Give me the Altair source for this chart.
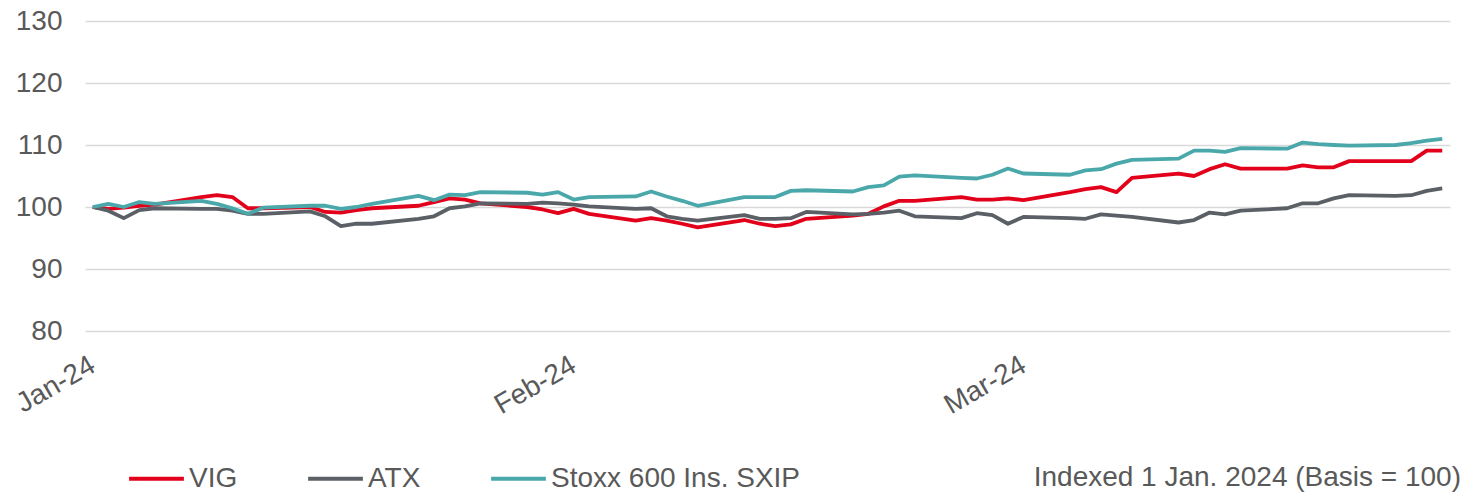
import altair as alt
import pandas as pd

# Trading days (Jan 1 – Mar 28, 2024)
dates = [
    "2024-01-01", "2024-01-02", "2024-01-03", "2024-01-04", "2024-01-05",
    "2024-01-08", "2024-01-09", "2024-01-10", "2024-01-11", "2024-01-12",
    "2024-01-15", "2024-01-16", "2024-01-17", "2024-01-18", "2024-01-19",
    "2024-01-22", "2024-01-23", "2024-01-24", "2024-01-25", "2024-01-26",
    "2024-01-29", "2024-01-30", "2024-01-31", "2024-02-01", "2024-02-02",
    "2024-02-05", "2024-02-06", "2024-02-07", "2024-02-08", "2024-02-09",
    "2024-02-12", "2024-02-13", "2024-02-14", "2024-02-15", "2024-02-16",
    "2024-02-19", "2024-02-20", "2024-02-21", "2024-02-22", "2024-02-23",
    "2024-02-26", "2024-02-27", "2024-02-28", "2024-02-29", "2024-03-01",
    "2024-03-04", "2024-03-05", "2024-03-06", "2024-03-07", "2024-03-08",
    "2024-03-11", "2024-03-12", "2024-03-13", "2024-03-14", "2024-03-15",
    "2024-03-18", "2024-03-19", "2024-03-20", "2024-03-21", "2024-03-22",
    "2024-03-25", "2024-03-26", "2024-03-27", "2024-03-28",
]

vig = [
    100.0, 99.7, 99.9, 100.2, 100.4,
    101.6, 101.9, 101.6, 99.8, 99.8,
    100.0, 99.2, 99.1, 99.5, 99.8,
    100.2, 100.8, 101.4, 101.2, 100.6,
    100.0, 99.6, 99.0, 99.7, 98.9,
    97.8, 98.2, 97.8, 97.3, 96.7,
    97.9, 97.3, 96.9, 97.2, 98.1,
    98.6, 98.9, 100.1, 101.0, 101.0,
    101.6, 101.2, 101.2, 101.4, 101.1,
    102.4, 102.9, 103.2, 102.4, 104.7,
    105.4, 105.0, 106.1, 106.9, 106.2,
    106.2, 106.7, 106.4, 106.4, 107.4,
    107.4, 107.4, 109.1, 109.1,
]

atx = [
    100.0, 99.4, 98.2, 99.5, 99.8,
    99.7, 99.7, 99.4, 98.9, 98.9,
    99.3, 98.5, 96.9, 97.3, 97.3,
    98.1, 98.5, 99.8, 100.1, 100.6,
    100.5, 100.7, 100.6, 100.4, 100.1,
    99.7, 99.8, 98.5, 98.1, 97.8,
    98.7, 98.1, 98.1, 98.2, 99.2,
    98.8, 98.9, 99.1, 99.4, 98.5,
    98.2, 99.0, 98.7, 97.3, 98.4,
    98.2, 98.1, 98.8, 98.6, 98.4,
    97.5, 97.9, 99.1, 98.8, 99.4,
    99.8, 100.6, 100.6, 101.4, 101.9,
    101.8, 101.9, 102.6, 103.0,
]

sxip = [
    100.0, 100.5, 100.0, 100.8, 100.5,
    101.0, 100.5, 99.8, 98.9, 99.9,
    100.2, 100.2, 99.7, 100.0, 100.5,
    101.8, 101.1, 102.0, 101.9, 102.4,
    102.3, 102.0, 102.4, 101.2, 101.6,
    101.7, 102.5, 101.7, 101.0, 100.2,
    101.6, 101.6, 101.6, 102.6, 102.7,
    102.5, 103.2, 103.5, 104.9, 105.1,
    104.7, 104.6, 105.2, 106.2, 105.4,
    105.2, 105.9, 106.1, 107.0, 107.6,
    107.8, 109.1, 109.1, 108.9, 109.5,
    109.4, 110.4, 110.15, 110.0, 109.9,
    110.0, 110.3, 110.7, 111.0,
]

series_names = ["VIG", "ATX", "Stoxx 600 Ins. SXIP"]
series_colors = ["#e2001a", "#5a6066", "#4aa8ab"]
y_ticks = [80, 90, 100, 110, 120, 130]
note_text = "Indexed 1 Jan. 2024 (Basis = 100)"

rows = []
for name, vals in zip(series_names, [vig, atx, sxip]):
    for d, v in zip(dates, vals):
        rows.append({"date": d, "value": v, "series": name})
df = pd.DataFrame(rows)

FONT = "Liberation Sans"
TXT = "#595959"
FS = 28

x_dom = [
    alt.DateTime(year=2023, month=12, date=31, hours=12, utc=True),
    alt.DateTime(year=2024, month=3, date=28, hours=12, utc=True),
]
x_ticks = [
    alt.DateTime(year=2024, month=1, date=1, utc=True),
    alt.DateTime(year=2024, month=2, date=1, utc=True),
    alt.DateTime(year=2024, month=3, date=1, utc=True),
]

lines = (
    alt.Chart(df)
    .mark_line(strokeWidth=3.8, strokeJoin="round")
    .encode(
        x=alt.X(
            "date:T",
            scale=alt.Scale(type="utc", domain=x_dom),
            axis=alt.Axis(
                values=x_ticks,
                format="%b-%y",
                title=None,
                grid=False,
                domain=False,
                ticks=False,
                tickSize=0,
                labelAngle=-30,
                labelAlign="right",
                labelBaseline="middle",
                labelPadding=32,
                labelFontSize=FS,
                labelFont=FONT,
                labelColor=TXT,
                labelOverlap=False,
                labelFlush=False,
            ),
        ),
        y=alt.Y(
            "value:Q",
            scale=alt.Scale(domain=[80, 130], nice=False, zero=False),
            axis=alt.Axis(
                values=y_ticks,
                title=None,
                grid=True,
                gridColor="#d9d9d9",
                gridWidth=1.5,
                domain=False,
                ticks=False,
                tickSize=0,
                labelPadding=23,
                labelFontSize=FS,
                labelFont=FONT,
                labelColor=TXT,
            ),
        ),
        color=alt.Color(
            "series:N",
            scale=alt.Scale(domain=series_names, range=series_colors),
            legend=alt.Legend(
                orient="none",
                legendX=42,
                legendY=428,
                direction="horizontal",
                title=None,
                symbolType="stroke",
                symbolSize=3000,
                symbolStrokeWidth=4,
                labelFontSize=FS,
                labelFont=FONT,
                labelColor=TXT,
                labelOffset=3,
                labelLimit=500,
                columnPadding=62,
            ),
        ),
        order=alt.Order("series:N", sort="descending"),
    )
)

note = (
    alt.Chart()
    .mark_text(align="right", baseline="middle", fontSize=FS, font=FONT, color=TXT)
    .encode(x=alt.value(1376), y=alt.value(457), text=alt.value(note_text))
)

chart = (
    alt.layer(lines, note)
    .properties(
        width=1365,
        height=310,
        autosize=alt.AutoSizeParams(type="none"),
        padding={"left": 77, "top": 13, "right": 12, "bottom": 170},
        view=alt.ViewConfig(stroke="transparent", strokeWidth=0),
    )
    .configure_view(stroke="transparent", strokeWidth=0)
    .configure(background="white")
)

chart.save("out.html", embed_options={"renderer": "svg", "actions": False})
